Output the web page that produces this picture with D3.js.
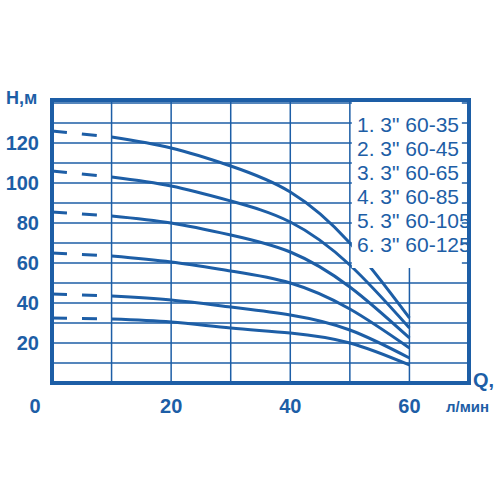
<!DOCTYPE html>
<html><head><meta charset="utf-8">
<script src="https://cdn.jsdelivr.net/npm/d3@7"></script>
<style>body{margin:0;background:#fff}</style></head>
<body><div class="chart"></div>
<script>
const qValues = [10, 20, 30, 40, 50, 60];
const series = [
  [32, 30.5, 27.5, 25, 20, 9],
  [43.5, 41.5, 38, 34, 26.5, 12.5],
  [63.5, 60.5, 56, 50, 37, 17.5],
  [83.5, 80, 74, 65.5, 48, 22.5],
  [103, 98.5, 91, 80.5, 59, 27.5],
  [123, 117.5, 108.5, 95.5, 70, 32.5]
];
const dashStart = [32.5, 44.5, 65, 85.5, 106, 126];
const legendLabels = ['1. 3" 60-35', '2. 3" 60-45', '3. 3" 60-65', '4. 3" 60-85', '5. 3" 60-105', '6. 3" 60-125'];
const xTicks = [0, 20, 40, 60];
const yTicks = [20, 40, 60, 80, 100, 120];

const blue = '#1d5ea6';
const svg = d3.select('.chart').append('svg').attr('width', 500).attr('height', 500);

const x = d3.scaleLinear().domain([0, 70]).range([52, 469]);
const y = d3.scaleLinear().domain([0, 141.5]).range([383, 100]);

// grid
svg.append('g').selectAll('line').data(d3.range(10, 70, 10)).join('line')
  .attr('x1', d => x(d)).attr('x2', d => x(d)).attr('y1', y(0)).attr('y2', y(141.5))
  .attr('stroke', blue).attr('stroke-width', 1.5);
svg.append('g').selectAll('line').data(d3.range(10, 141, 10)).join('line')
  .attr('x1', x(0)).attr('x2', x(70)).attr('y1', d => y(d)).attr('y2', d => y(d))
  .attr('stroke', blue).attr('stroke-width', 1.5);

// curves
const line = d3.line().x((d, i) => x(qValues[i])).y(d => y(d)).curve(d3.curveNatural);
svg.append('g').selectAll('path').data(series).join('path')
  .attr('d', line).attr('fill', 'none').attr('stroke', blue).attr('stroke-width', 3);
svg.append('g').selectAll('line').data(series).join('line')
  .attr('x1', x(0)).attr('x2', x(10)).attr('y1', (d, i) => y(dashStart[i])).attr('y2', d => y(d[0]))
  .attr('stroke', blue).attr('stroke-width', 3).attr('stroke-dasharray', '15,15');

// legend box
svg.append('rect').attr('x', x(50) + 2).attr('y', 102).attr('width', 110).attr('height', 166).attr('fill', '#fff');
svg.append('g').selectAll('text').data(legendLabels).join('text')
  .attr('x', 357).attr('y', (d, i) => 132 + i * 24).text(d => d)
  .attr('fill', blue).attr('font-family', 'Liberation Sans Narrow, Arial Narrow, sans-serif').attr('font-size', 21);

// frame
svg.append('rect').attr('x', x(0)).attr('y', y(141.5)).attr('width', x(70) - x(0)).attr('height', y(0) - y(141.5))
  .attr('fill', 'none').attr('stroke', blue).attr('stroke-width', 4);

const ax = svg.append('g').attr('fill', blue).attr('font-family', 'Liberation Sans, Arial, sans-serif')
  .attr('font-weight', 'bold').attr('font-size', 20);
ax.selectAll('.yt').data(yTicks).join('text').attr('class', 'yt')
  .attr('x', 39).attr('y', d => y(d) + 7).attr('text-anchor', 'end').text(d => d);
ax.selectAll('.xt').data(xTicks).join('text').attr('class', 'xt')
  .attr('x', d => x(d) - (d === 0 ? 17 : 0)).attr('y', 413).attr('text-anchor', 'middle').text(d => d);
ax.append('text').attr('x', 6).attr('y', 104).attr('font-size', 18).text('H,м');
ax.append('text').attr('x', 473).attr('y', 387).text('Q,');
ax.append('text').attr('x', 446).attr('y', 412).attr('font-size', 15).text('л/мин');
</script></body></html>
